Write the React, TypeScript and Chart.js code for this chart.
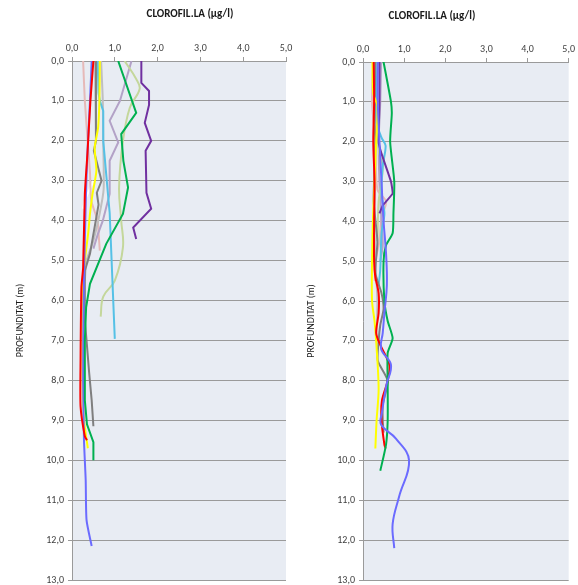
import React, { useEffect, useRef } from "react";
import { Chart, registerables } from "chart.js";
Chart.register(...registerables);

type Pt = [number, number]; // [chlorophyll µg/l, depth m]

const X_TICKS = [0, 1, 2, 3, 4, 5];
const DEPTH_TICKS = [0, 1, 2, 3, 4, 5, 6, 7, 8, 9, 10, 11, 12, 13];
const TITLE = "CLOROFIL.LA (µg/l)";
const Y_TITLE = "PROFUNDITAT (m)";

// ---------- Left panel ----------
const L_PURPLE: Pt[] = [[1.62, 0], [1.62, 0.55], [1.8, 0.75], [1.8, 1.1], [1.7, 1.55], [1.85, 2.0], [1.72, 2.25], [1.74, 3.3], [1.85, 3.7], [1.43, 4.17], [1.5, 4.46]];
const L_GREEN: Pt[] = [[1.08, 0], [1.5, 1.3], [1.15, 1.83], [1.2, 2.5], [1.31, 3.17], [1.19, 3.83], [0.8, 4.58], [0.42, 5.58], [0.33, 6.17], [0.3, 7.0], [0.3, 8.0], [0.3, 8.5], [0.35, 9.1], [0.5, 9.55], [0.5, 10.0]];
const L_RED: Pt[] = [[0.5, 0], [0.43, 1.0], [0.36, 2.33], [0.3, 3.33], [0.26, 5.17], [0.22, 5.67], [0.2, 7.5], [0.2, 8.65], [0.3, 9.4], [0.35, 9.5]];
const L_BLUE: Pt[] = [[0.46, 0], [0.42, 1.0], [0.36, 2.33], [0.33, 3.17], [0.3, 4.5], [0.27, 6.0], [0.26, 8.0], [0.28, 9.5], [0.32, 10.5], [0.34, 11.5], [0.46, 12.15]];
const L_YELLOW: Pt[] = [[0.65, 0], [0.64, 1.0], [0.61, 1.67], [0.53, 2.17], [0.57, 2.75], [0.48, 3.33], [0.42, 3.83], [0.38, 4.3], [0.3, 5.0], [0.25, 5.67], [0.25, 7.0], [0.25, 8.0], [0.28, 9.0], [0.37, 9.7]];
const L_GRAY: Pt[] = [[0.55, 0], [0.56, 0.67], [0.56, 2.0], [0.51, 2.25], [0.69, 3.0], [0.58, 3.3], [0.62, 3.6], [0.42, 4.83], [0.3, 5.25], [0.3, 6.5], [0.34, 7.0], [0.4, 7.8], [0.46, 8.5], [0.5, 9.15]];
const L_CYAN: Pt[] = [[0.6, 0], [0.62, 0.8], [0.65, 1.0], [0.73, 1.25], [0.73, 2.0], [0.84, 3.33], [0.88, 3.8], [1.0, 6.96]];
const L_OLIVE: Pt[] = [[1.23, 0], [1.5, 0.45], [1.58, 0.7], [1.35, 1.17], [1.19, 2.0], [1.1, 3.17], [1.15, 4.0], [1.19, 4.67], [1.0, 5.5], [0.73, 5.9], [0.67, 6.4]];
const L_LAVENDER: Pt[] = [[1.39, 0], [1.12, 1.0], [0.88, 1.5], [1.08, 2.04], [0.88, 2.5], [0.88, 3.33], [0.72, 4.0], [0.6, 4.35], [0.5, 4.7]];
const L_LIGHTGRAY: Pt[] = [[0.68, 0], [0.72, 1.0], [0.73, 2.0], [0.74, 3.2], [0.65, 3.8], [0.5, 4.5], [0.34, 5.0], [0.3, 5.5]];
const L_PINK: Pt[] = [[0.26, 0], [0.3, 1.0], [0.38, 2.2], [0.42, 2.8], [0.45, 3.5], [0.6, 4.0], [0.62, 4.3], [0.65, 4.75]];
const L_WHITE: Pt[] = [[0.5, 3.0], [0.3, 3.5], [0.26, 3.7]];

// ---------- Right panel ----------
const R_BLUE: Pt[] = [[0.36, 0], [0.36, 1.0], [0.4, 2.0], [0.45, 3.0], [0.5, 4.0], [0.56, 4.8], [0.58, 5.6], [0.52, 6.3], [0.48, 6.8], [0.44, 7.2], [0.68, 7.6], [0.57, 8.1], [0.46, 8.8], [0.44, 9.1], [0.8, 9.45], [1.12, 10.0], [0.88, 10.9], [0.72, 11.6], [0.76, 12.2]];
const R_GREEN: Pt[] = [[0.5, 0], [0.68, 1.0], [0.7, 1.3], [0.66, 2.0], [0.76, 3.0], [0.74, 3.8], [0.72, 4.3], [0.56, 4.6], [0.5, 5.0], [0.52, 6.0], [0.6, 6.5], [0.72, 6.93], [0.6, 7.3], [0.6, 8.1], [0.6, 9.0], [0.56, 9.6], [0.42, 10.26]];
const R_RED: Pt[] = [[0.26, 0], [0.27, 1.0], [0.25, 2.0], [0.28, 3.0], [0.27, 4.0], [0.27, 5.0], [0.3, 5.4], [0.38, 5.8], [0.38, 6.3], [0.32, 6.8], [0.42, 7.1], [0.64, 7.6], [0.6, 8.0], [0.46, 8.5], [0.45, 9.0], [0.52, 9.6], [0.55, 9.7]];
const R_YELLOW: Pt[] = [[0.23, 0], [0.25, 0.8], [0.35, 1.1], [0.32, 2.0], [0.28, 3.0], [0.24, 4.0], [0.22, 5.0], [0.22, 6.0], [0.28, 6.5], [0.32, 7.0], [0.38, 8.2], [0.33, 9.0], [0.3, 9.7]];
const R_GRAY: Pt[] = [[0.3, 0], [0.28, 1.5], [0.3, 2.0], [0.26, 3.5], [0.35, 4.5], [0.3, 5.3], [0.45, 5.8], [0.5, 6.2], [0.42, 6.6], [0.38, 7.0], [0.36, 7.5], [0.6, 8.0], [0.48, 8.6], [0.48, 9.0], [0.5, 9.3]];
const R_PURPLE: Pt[] = [[0.4, 0], [0.4, 1.0], [0.38, 2.0], [0.45, 2.3], [0.68, 3.0], [0.72, 3.3], [0.48, 3.6], [0.4, 3.8]];
const R_CYAN: Pt[] = [[0.35, 0], [0.33, 1.5], [0.45, 1.9], [0.55, 2.1], [0.48, 2.6], [0.45, 3.3], [0.52, 3.8], [0.45, 4.3], [0.42, 5.2], [0.38, 5.6]];
const R_OLIVE: Pt[] = [[0.3, 0], [0.32, 1.5], [0.4, 2.3], [0.48, 2.6], [0.45, 3.0], [0.38, 3.5], [0.35, 4.5]];
const R_LAVENDER: Pt[] = [[0.44, 0], [0.42, 1.0], [0.38, 2.0], [0.4, 3.0], [0.45, 4.0], [0.48, 4.6], [0.42, 5.0]];
const R_PINK: Pt[] = [[0.25, 0], [0.22, 1.0], [0.3, 2.0], [0.35, 3.2], [0.56, 3.5], [0.45, 3.9], [0.4, 4.5], [0.3, 5.0], [0.28, 5.5]];
const R_LIGHTGRAY: Pt[] = [[0.27, 0], [0.25, 1.0], [0.3, 2.5], [0.28, 4.0], [0.3, 5.0], [0.35, 6.0], [0.32, 7.0]];
const R_WHITE: Pt[] = [[0.27, 4.5], [0.22, 5.0], [0.25, 5.5]];

const COLORS = {
  purple: "#7030a0",
  green: "#00b050",
  red: "#ff0000",
  blue: "#6b6bff",
  yellow: "#ffff00",
  gray: "#7f7f7f",
  cyan: "#55c1e6",
  olive: "#c4d79b",
  lavender: "#b3a2c7",
  lightgray: "#bfbfbf",
  pink: "#e6b9b8",
  white: "#ffffff",
};

type Series = { data: Pt[]; color: string; tension: number };

// first in list = drawn on top
const LEFT_SERIES: Series[] = [
  { data: L_PURPLE, color: COLORS.purple, tension: 0 },
  { data: L_GREEN, color: COLORS.green, tension: 0 },
  { data: L_RED, color: COLORS.red, tension: 0.2 },
  { data: L_BLUE, color: COLORS.blue, tension: 0.2 },
  { data: L_YELLOW, color: COLORS.yellow, tension: 0.2 },
  { data: L_GRAY, color: COLORS.gray, tension: 0 },
  { data: L_CYAN, color: COLORS.cyan, tension: 0 },
  { data: L_OLIVE, color: COLORS.olive, tension: 0.4 },
  { data: L_LAVENDER, color: COLORS.lavender, tension: 0 },
  { data: L_LIGHTGRAY, color: COLORS.lightgray, tension: 0.2 },
  { data: L_PINK, color: COLORS.pink, tension: 0.2 },
  { data: L_WHITE, color: COLORS.white, tension: 0.2 },
];

const RIGHT_SERIES: Series[] = [
  { data: R_BLUE, color: COLORS.blue, tension: 0.4 },
  { data: R_GREEN, color: COLORS.green, tension: 0.2 },
  { data: R_RED, color: COLORS.red, tension: 0.3 },
  { data: R_YELLOW, color: COLORS.yellow, tension: 0.3 },
  { data: R_GRAY, color: COLORS.gray, tension: 0.2 },
  { data: R_PURPLE, color: COLORS.purple, tension: 0.1 },
  { data: R_CYAN, color: COLORS.cyan, tension: 0.3 },
  { data: R_OLIVE, color: COLORS.olive, tension: 0.3 },
  { data: R_LAVENDER, color: COLORS.lavender, tension: 0.3 },
  { data: R_PINK, color: COLORS.pink, tension: 0.3 },
  { data: R_LIGHTGRAY, color: COLORS.lightgray, tension: 0.3 },
  { data: R_WHITE, color: COLORS.white, tension: 0.3 },
];

const FONT_FAMILY = 'Carlito, Calibri, "Liberation Sans Narrow", "DejaVu Sans Condensed", "Open Sans", sans-serif';
const TEXT_COLOR = "#404040";
const GRID_COLOR = "#9a9a9a";
const PLOT_BG = "#e8ecf3";

const fmt = (v: number | string) => Number(v).toFixed(1).replace(".", ",");

const bgPlugin = {
  id: "plotBg",
  beforeDraw(chart: any) {
    const { ctx, chartArea } = chart;
    if (!chartArea) return;
    ctx.save();
    ctx.fillStyle = PLOT_BG;
    ctx.fillRect(chartArea.left, chartArea.top, chartArea.right - chartArea.left, chartArea.bottom - chartArea.top);
    ctx.restore();
  },
};

function makeTitlePlugin(x: number, y: number) {
  return {
    id: "panelTitle",
    afterDraw(chart: any) {
      const ctx = chart.ctx;
      ctx.save();
      ctx.font = `bold 11px ${FONT_FAMILY}`;
      ctx.fillStyle = "#1a1a1a";
      ctx.textAlign = "center";
      ctx.textBaseline = "middle";
      ctx.fillText(TITLE, x, y);
      ctx.restore();
    },
  };
}

type PanelProps = {
  series: Series[];
  left: number;
  width: number;
  yWidth: number;
  xHeight: number;
  padRight: number;
  padBottom: number;
  yTitlePad: number;
  titleX: number;
  titleY: number;
};

function Panel(p: PanelProps) {
  const ref = useRef<HTMLCanvasElement>(null);
  useEffect(() => {
    const tickFont = { family: FONT_FAMILY, size: 10 };
    const chart = new Chart(ref.current as HTMLCanvasElement, {
      type: "scatter",
      data: {
        datasets: p.series.map((s, i) => ({
          label: "s" + i,
          data: s.data.map(([x, y]) => ({ x, y })),
          borderColor: s.color,
          backgroundColor: s.color,
          showLine: true,
          pointRadius: 0,
          pointHoverRadius: 0,
          borderWidth: 2,
          tension: s.tension,
          fill: false,
        })),
      },
      options: {
        responsive: false,
        animation: false,
        events: [],
        layout: { padding: { top: 0, left: 0, right: p.padRight, bottom: p.padBottom } },
        plugins: { legend: { display: false }, tooltip: { enabled: false }, title: { display: false } },
        scales: {
          x: {
            type: "linear",
            position: "top",
            min: 0,
            max: 5,
            afterBuildTicks: (s: any) => {
              s.ticks = X_TICKS.map((v) => ({ value: v }));
            },
            ticks: { callback: fmt, font: tickFont, color: TEXT_COLOR, padding: 3, maxRotation: 0, autoSkip: false },
            grid: { drawOnChartArea: false, drawTicks: true, tickLength: 4, color: GRID_COLOR },
            border: { display: true, color: GRID_COLOR, width: 1 },
            afterFit: (s: any) => {
              s.height = p.xHeight;
            },
          },
          y: {
            type: "linear",
            reverse: true,
            min: 0,
            max: 13,
            afterBuildTicks: (s: any) => {
              s.ticks = DEPTH_TICKS.map((v) => ({ value: v }));
            },
            ticks: { callback: fmt, font: tickFont, color: TEXT_COLOR, padding: 4, autoSkip: false },
            grid: { color: GRID_COLOR, lineWidth: 1, tickLength: 4 },
            border: { display: true, color: GRID_COLOR, width: 1 },
            title: {
              display: true,
              text: Y_TITLE,
              font: { family: FONT_FAMILY, size: 10 },
              color: "#1a1a1a",
              padding: { top: p.yTitlePad, bottom: 0 },
            },
            afterFit: (s: any) => {
              s.width = p.yWidth;
              s.paddingTop = 0;
              s.paddingBottom = 0;
            },
          },
        },
      } as any,
      plugins: [bgPlugin, makeTitlePlugin(p.titleX, p.titleY)],
    });
    return () => chart.destroy();
  }, []);
  return (
    <canvas
      ref={ref}
      width={p.width}
      height={585}
      style={{ position: "absolute", left: p.left, top: 0, width: p.width, height: 585 }}
    />
  );
}

export default function App() {
  return (
    <div style={{ position: "absolute", left: 0, top: 0, width: 578, height: 585, background: "#ffffff", overflow: "hidden" }}>
      <Panel series={LEFT_SERIES} left={0} width={296} yWidth={72} xHeight={61} padRight={10} padBottom={5} yTitlePad={14} titleX={190} titleY={14} />
      <Panel series={RIGHT_SERIES} left={290} width={288} yWidth={73} xHeight={62} padRight={6} padBottom={5} yTitlePad={15} titleX={142} titleY={16} />
    </div>
  );
}
